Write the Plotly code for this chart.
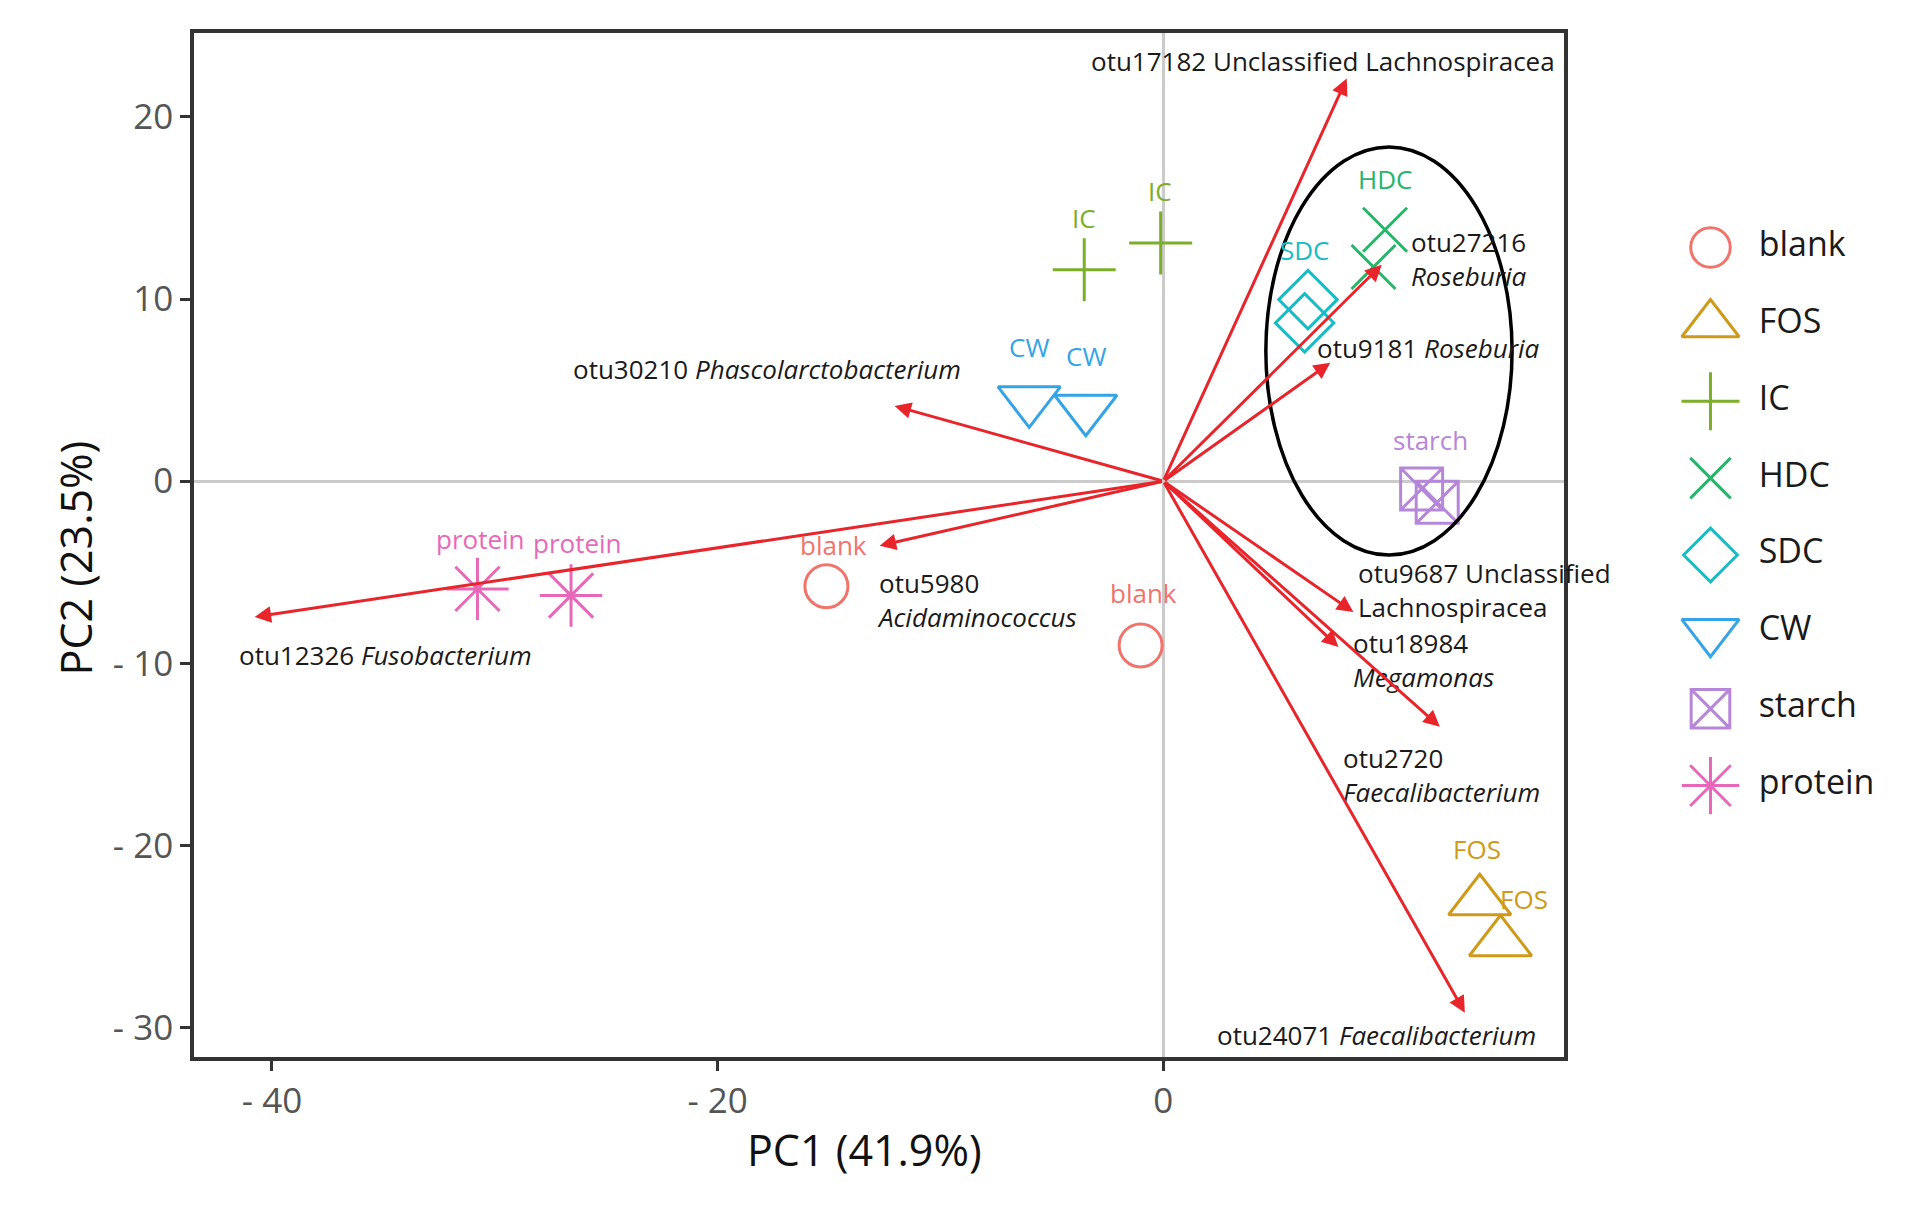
import plotly.graph_objects as go

# ---------------- data ----------------
groups = ["blank", "FOS", "IC", "HDC", "SDC", "CW", "starch", "protein"]

sample_group = ["blank", "blank", "FOS", "FOS", "IC", "IC", "HDC", "HDC",
                "SDC", "SDC", "CW", "CW", "starch", "starch", "protein", "protein"]
pc1 = [-15.12, -1.02, 14.20, 15.13, -3.55, -0.12, 9.95, 9.43,
       6.49, 6.34, -6.02, -3.48, 11.59, 12.29, -30.78, -26.58]
pc2 = [-5.76, -9.01, -23.05, -25.30, 11.61, 13.07, 13.80, 11.76,
       9.97, 8.69, 4.44, 3.98, -0.43, -1.16, -5.91, -6.27]
sample_labelled = [True, True, True, True, True, True, True, False,
                   True, False, True, True, True, False, True, True]

otu_text = [
    "otu17182 Unclassified Lachnospiracea",
    "otu27216<br><i>Roseburia</i>",
    "otu9181 <i>Roseburia</i>",
    "otu30210 <i>Phascolarctobacterium</i>",
    "otu5980<br><i>Acidaminococcus</i>",
    "otu12326 <i>Fusobacterium</i>",
    "otu9687 Unclassified<br>Lachnospiracea",
    "otu18984<br><i>Megamonas</i>",
    "otu2720<br><i>Faecalibacterium</i>",
    "otu24071 <i>Faecalibacterium</i>",
]
load_pc1 = [8.23, 9.80, 7.49, -12.06, -12.73, -40.78, 8.53, 7.86, 12.41, 13.53]
load_pc2 = [22.10, 11.88, 6.50, 4.13, -3.54, -7.45, -7.18, -9.10, -13.48, -29.17]

x_tickvals = [-40, -20, 0]
x_ticktext = ["- 40", "- 20", "0"]
y_tickvals = [20, 10, 0, -10, -20, -30]
y_ticktext = ["20", "10", "0", "- 10", "- 20", "- 30"]

# ---------------- styles ----------------
colors = {"blank": "#F0736C", "FOS": "#CF9A1A", "IC": "#7CAE2A", "HDC": "#26B56A",
          "SDC": "#17BCC4", "CW": "#34A4E6", "starch": "#B687D8", "protein": "#E768B8"}
symbols = {"blank": "circle-open", "FOS": "triangle-up-open", "IC": "cross-thin-open",
           "HDC": "x-thin-open", "SDC": "diamond-open", "CW": "triangle-down-open",
           "starch": "square-x-open", "protein": "asterisk-open"}
msize = {"blank": 43, "FOS": 54, "IC": 45, "HDC": 44, "SDC": 45, "CW": 54,
         "starch": 42, "protein": 52}
# group-label offsets (px) relative to the marker
lab_dx = [7, 3, -3, 24, 0, -1, 0, 0, -3, 0, 0, 0, 9, 0, 3, 6]
lab_dy = [41, 52, 52, 43, 52, 52, 51, 0, 50, 0, 53, 53, 49, 0, 50, 52]
# OTU label placement (anchor, px shifts) relative to arrow tip
otu_anchor = ["right", "left", "left", "right", "left", "left", "left", "left", "left", "right"]
otu_dx = [210, 27, -15, 68, -5, -18, 3, 13, -99, 73]
otu_dy = [18, 6, 15, 37, -54, -38, 22, -13, -48, -22]

FONT = "Open Sans, Noto Sans, sans-serif"
ARROW = "#E8252B"

fig = go.Figure()

for g in groups:
    idx = [i for i, s in enumerate(sample_group) if s == g]
    fig.add_trace(go.Scatter(
        x=[pc1[i] for i in idx], y=[pc2[i] for i in idx], mode="markers",
        name=g, showlegend=False,
        marker=dict(symbol=symbols[g], size=msize[g], color=colors[g],
                    line=dict(color=colors[g], width=3)),
        xaxis="x", yaxis="y"))

annotations = []
# loading arrows
for i in range(len(otu_text)):
    annotations.append(dict(
        x=load_pc1[i], y=load_pc2[i], ax=0, ay=0, xref="x", yref="y",
        axref="x", ayref="y", text="", showarrow=True, arrowhead=2,
        arrowsize=1.1, arrowwidth=3, arrowcolor=ARROW, standoff=0))
    annotations.append(dict(
        x=load_pc1[i], y=load_pc2[i], xref="x", yref="y", text=otu_text[i],
        showarrow=False, xanchor=otu_anchor[i], yanchor="middle", align="left",
        xshift=otu_dx[i], yshift=otu_dy[i],
        font=dict(family=FONT, size=26, color="#1A1A1A")))

# sample labels
for i, g in enumerate(sample_group):
    if sample_labelled[i]:
        annotations.append(dict(
            x=pc1[i], y=pc2[i], xref="x", yref="y", text=g, showarrow=False,
            xanchor="center", yanchor="middle", xshift=lab_dx[i], yshift=lab_dy[i],
            font=dict(family=FONT, size=26, color=colors[g])))

# axis titles
annotations.append(dict(text="PC1 (41.9%)", xref="paper", yref="paper", x=0.39, y=-0.0908,
                        showarrow=False, xanchor="center", yanchor="middle",
                        font=dict(family=FONT, size=43, color="#111111")))
annotations.append(dict(text="PC2 (23.5%)", xref="paper", yref="paper", x=-0.0689, y=0.4875,
                        showarrow=False, xanchor="center", yanchor="middle", textangle=-90,
                        font=dict(family=FONT, size=43, color="#111111")))

# custom legend on its own axes (large symbols)
leg_idx = list(range(len(groups)))
for k, g in enumerate(groups):
    fig.add_trace(go.Scatter(
        x=[0.31], y=[leg_idx[k]], mode="markers", showlegend=False,
        marker=dict(symbol=symbols[g], size=msize[g] * 0.92, color=colors[g],
                    line=dict(color=colors[g], width=3)),
        xaxis="x2", yaxis="y2", hoverinfo="skip"))
fig.add_trace(go.Scatter(
    x=[0.475] * len(groups), y=leg_idx, mode="text", text=groups,
    textposition="middle right", showlegend=False,
    textfont=dict(family=FONT, size=34, color="#1A1A1A"),
    xaxis="x2", yaxis="y2", hoverinfo="skip"))

shapes = [dict(type="circle", xref="x", yref="y", x0=4.6, x1=15.65, y0=-4.05, y1=18.35,
               line=dict(color="black", width=3.5), layer="above")]

axis_common = dict(
    showgrid=False, zeroline=True, zerolinecolor="#CBCBCB", zerolinewidth=3,
    showline=True, linecolor="#333333", linewidth=3.5, mirror=True,
    ticks="outside", ticklen=10, tickwidth=3, tickcolor="#333333",
    tickfont=dict(family=FONT, size=35, color="#555555"))

fig.update_layout(
    width=1912, height=1214,
    margin=dict(l=194, r=0, t=33, b=157),
    paper_bgcolor="white", plot_bgcolor="white",
    xaxis=dict(range=[-43.5, 18.0], domain=[0, 0.7977],
               tickvals=x_tickvals, ticktext=x_ticktext, **axis_common),
    yaxis=dict(range=[-31.6, 24.6], tickvals=y_tickvals, ticktext=y_ticktext,
               **axis_common),
    xaxis2=dict(domain=[0.83, 1.0], range=[0, 1], visible=False, anchor="y2"),
    yaxis2=dict(domain=[0, 1], range=[10.53, -2.79], visible=False, anchor="x2"),
    annotations=annotations, shapes=shapes, showlegend=False,
)

fig.write_html("out.html", config={"displayModeBar": False},
               post_script="document.body.style.margin='0';")
